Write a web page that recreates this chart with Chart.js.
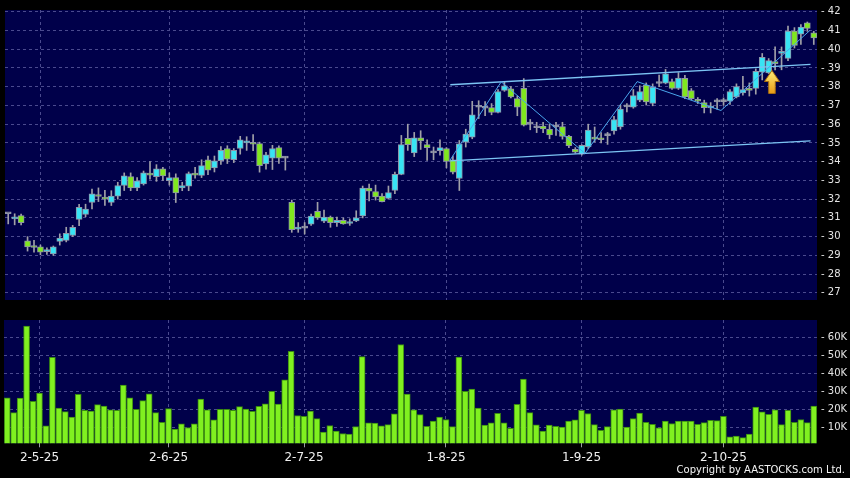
<!DOCTYPE html>
<html>
<head>
<meta charset="utf-8">
<script src="https://cdn.jsdelivr.net/npm/chart.js@4.4.1/dist/chart.umd.min.js"></script>
<style>
body{margin:0;background:#000;width:850px;height:478px;overflow:hidden;position:relative}
canvas{position:absolute;left:0}
#graficoPrecio{top:0}
#graficoVolumen{top:310px}
#copy{position:absolute;right:5px;top:464px;font:10px "DejaVu Sans",sans-serif;color:#f4f4f4}
</style>
</head>
<body>
<canvas id="graficoPrecio" width="850" height="310"></canvas>
<canvas id="graficoVolumen" width="850" height="168"></canvas>
<div id="copy">Copyright by AASTOCKS.com Ltd.</div>
<script>

/* =========================
DATOS
========================= */

const tickIdx = [5, 25, 46, 68, 89, 111]
const tickText = ["2-5-25", "2-6-25", "2-7-25", "1-8-25", "1-9-25", "2-10-25"]

const priceTicks = [27, 28, 29, 30, 31, 32, 33, 34, 35, 36, 37, 38, 39, 40, 41, 42]
const volTicks = [10000, 20000, 30000, 40000, 50000, 60000]

const abre = [
31.22,30.95,31.12,29.78,29.5,29.45,29.2,29.08,29.75,29.8,30.06,30.92,31.18,31.82,32.2,32.05,31.83,32.16,32.73,33.2,
32.6,32.81,33.37,33.2,33.62,32.98,33.15,32.6,32.69,33.36,33.27,34.1,33.67,34.05,34.7,34.1,34.7,35.0,35.0,34.96,
33.88,34.19,34.75,34.19,31.83,30.4,30.45,30.66,31.35,30.83,31.04,30.74,30.87,30.7,30.84,31.1,32.59,32.41,32.16,32.04,
32.46,33.32,35.25,34.47,35.27,34.91,34.47,34.58,34.7,34.1,33.1,35.04,35.3,36.9,36.85,36.88,36.62,37.8,37.88,37.36,
37.91,36.0,35.81,35.9,35.73,35.85,35.87,35.35,34.66,34.4,34.78,35.3,35.27,35.39,35.64,35.85,36.92,36.9,37.28,38.08,
37.1,38.17,38.19,38.27,37.91,38.44,37.79,37.31,37.15,36.86,37.19,37.2,37.23,37.45,37.67,37.9,37.91,38.77,38.74,39.33,
39.78,39.51,40.97,40.8,41.4,40.87
]

const alto = [
31.22,31.22,31.2,30.0,29.8,29.55,29.4,29.5,30.15,30.5,30.6,31.73,31.73,32.54,32.6,32.47,32.45,32.9,33.4,33.4,
33.15,33.5,34.0,33.84,33.7,33.4,33.35,32.9,33.45,33.7,34.1,34.3,34.3,34.8,34.85,34.7,35.35,35.33,35.45,35.04,
34.5,34.87,34.85,34.27,31.95,30.75,30.75,31.2,31.83,31.42,31.1,31.05,31.0,30.95,31.38,32.7,32.8,32.75,32.3,32.7,
33.44,35.4,36.0,35.56,35.65,35.17,34.78,35.17,34.75,34.3,35.13,35.73,37.22,37.25,37.2,37.1,37.85,38.25,38.0,37.5,
38.43,36.25,36.1,36.1,36.0,36.1,36.1,35.4,34.75,34.9,36.0,35.85,35.55,35.56,36.42,37.02,37.1,37.85,38.05,38.2,
38.15,38.62,38.92,38.4,38.75,38.6,37.9,37.42,37.28,37.15,37.36,37.4,37.85,38.15,38.55,38.2,38.95,39.77,39.5,40.12,
40.12,41.23,41.15,41.31,41.45,40.95
]

const bajo = [
30.68,30.63,30.62,29.23,29.17,29.03,29.05,29.0,29.55,29.72,30.0,30.58,31.06,31.48,31.87,31.66,31.66,32.0,32.46,32.45,
32.45,32.75,33.07,32.95,33.0,32.75,31.82,32.45,32.45,33.12,33.15,33.3,33.45,33.85,33.9,33.95,34.4,34.6,34.58,33.44,
33.6,33.58,33.9,33.55,30.23,30.23,30.14,30.6,30.92,30.75,30.5,30.55,30.66,30.6,30.8,31.0,31.9,31.95,31.85,32.0,
32.29,33.3,34.6,34.27,34.65,34.06,34.1,34.35,33.67,33.35,32.46,34.78,35.22,36.3,36.45,36.5,36.6,37.75,37.4,36.45,
35.9,35.7,35.55,35.55,35.22,35.4,35.2,34.75,34.45,34.35,34.7,35.05,35.0,34.92,35.47,35.73,36.65,36.85,37.2,37.02,
36.98,38.0,38.15,37.85,37.85,37.36,37.3,37.1,36.6,36.6,36.8,37.0,37.05,37.4,37.55,37.5,37.6,38.36,38.7,38.9,
38.9,39.39,40.06,40.25,40.95,40.25
]

const cierre = [
31.22,31.02,30.75,29.45,29.42,29.17,29.28,29.46,29.92,30.18,30.49,31.56,31.47,32.29,32.14,32.0,32.17,32.73,33.24,32.6,
32.98,33.41,33.28,33.62,33.24,33.15,32.33,32.72,33.36,33.28,33.79,33.55,34.05,34.61,34.13,34.61,35.17,35.08,34.93,33.79,
34.36,34.7,34.19,34.19,30.37,30.5,30.45,31.1,31.0,31.04,30.75,30.87,30.68,30.8,31.0,32.59,32.42,32.12,31.87,32.35,
33.32,34.91,34.91,35.27,35.1,34.75,34.47,34.75,34.01,33.44,34.95,35.47,36.5,36.9,36.85,36.62,37.74,38.05,37.45,36.9,
35.95,36.0,35.81,35.75,35.42,35.85,35.34,34.85,34.5,34.87,35.68,35.2,35.17,35.39,36.25,36.81,36.92,37.52,37.74,37.19,
37.96,38.17,38.69,37.91,38.46,37.45,37.36,37.22,36.88,36.93,37.19,37.2,37.74,38.0,37.85,37.8,38.82,39.56,39.39,39.23,
39.86,40.97,40.2,41.18,41.11,40.6
]

const volumen = [
26.6,18.4,26.4,66.1,24.6,29.1,11.1,48.8,20.9,18.9,16.0,28.4,19.7,19.3,22.8,22.0,20.0,19.7,33.5,26.6,
20.2,25.0,28.8,18.4,13.1,20.6,9.3,12.2,10.2,12.2,25.9,19.9,14.4,20.2,20.2,19.7,21.7,20.4,19.1,21.9,
23.3,30.1,23.1,36.4,52.1,16.8,16.4,19.3,15.1,7.7,11.3,8.2,6.9,6.6,10.7,49.2,12.8,12.6,11.1,11.8,
17.7,55.9,28.6,19.9,17.3,10.9,13.8,16.0,14.6,10.7,49.0,30.1,31.3,20.9,11.5,12.8,18.0,12.8,9.7,23.0,
36.8,18.4,11.7,8.2,11.5,10.9,10.4,13.8,14.4,19.7,17.9,11.8,8.7,10.7,19.9,20.4,10.4,15.1,18.2,13.1,
12.0,10.0,13.8,12.4,13.7,13.7,13.7,12.0,12.9,14.2,14.0,16.4,5.1,5.5,4.6,6.6,21.5,18.8,17.5,20.0,
11.8,19.7,13.1,14.6,12.9,22.0
]

// lineas de tendencia (indice de barra, precio)
const canalSupX = [68.6, 124.5]
const canalSupY = [38.10, 39.19]
const canalInfX = [68.6, 124.5]
const canalInfY = [34.04, 35.11]
const zigzagX = [68.5, 76.5, 89.5, 97.6, 110.6, 124.4]
const zigzagY = [34.05, 38.26, 34.44, 38.27, 36.73, 41.0]
const flechaX = [118.5]
const flechaY = [38.25]


/* =========================
ESTILOS
========================= */

const NAVY = "#00004a"
const GRID = "#4a4a8e"
const CYAN = "#38e4f4"
const VERDE = "#80e81e"
const GRIS = "#a0a0a8"

const fondoPanel = {
id: "fondoPanel",
beforeDraw(chart){
let a = chart.chartArea
let ctx = chart.ctx
ctx.save()
ctx.fillStyle = NAVY
ctx.fillRect(a.left, a.top, a.right - a.left, a.bottom - a.top)
ctx.restore()
}
}

function makeArrow(){
let c = document.createElement("canvas")
c.width = 16
c.height = 24
let g = c.getContext("2d")
let grad = g.createLinearGradient(0, 0, 0, 24)
grad.addColorStop(0, "#fff07a")
grad.addColorStop(1, "#e89a14")
g.beginPath()
g.moveTo(8, 0.5)
g.lineTo(15.5, 11.5)
g.lineTo(11.3, 11.5)
g.lineTo(11.3, 23.5)
g.lineTo(4.7, 23.5)
g.lineTo(4.7, 11.5)
g.lineTo(0.5, 11.5)
g.closePath()
g.fillStyle = grad
g.fill()
g.strokeStyle = "#a86c10"
g.lineWidth = 1
g.stroke()
return c
}

function colorVela(i){
if(cierre[i] > abre[i]) return CYAN
if(cierre[i] < abre[i]) return VERDE
return GRIS
}

function puntos(xs, ys){
return xs.map((x, i) => ({x: x, y: ys[i]}))
}

Chart.defaults.font.family = "'DejaVu Sans', sans-serif"
Chart.defaults.animation = false


/* =========================
GRAFICO PRECIO
========================= */

let cuerpos = abre.map((o, i) => ({x: i, y: [o, cierre[i]]}))
let mechas = abre.map((o, i) => ({x: i, y: [bajo[i], alto[i]]}))
let colores = abre.map((o, i) => colorVela(i))

new Chart(document.getElementById("graficoPrecio"), {
type: "bar",
data: {
datasets: [
{
type: "scatter",
data: puntos(flechaX, flechaY),
pointStyle: makeArrow(),
order: 0
},
{
type: "line",
data: puntos(zigzagX, zigzagY),
borderColor: "#4aa6ec",
borderWidth: 1,
pointRadius: 0,
order: 1
},
{
type: "line",
data: puntos(canalSupX, canalSupY),
borderColor: "#7cc4f4",
borderWidth: 1.4,
pointRadius: 0,
order: 1
},
{
type: "line",
data: puntos(canalInfX, canalInfY),
borderColor: "#7cc4f4",
borderWidth: 1.4,
pointRadius: 0,
order: 1
},
{
data: cuerpos,
backgroundColor: colores,
borderColor: "#8e94a8",
borderWidth: 1,
borderSkipped: false,
barThickness: 6,
minBarLength: 2,
grouped: false,
order: 2
},
{
data: mechas,
backgroundColor: GRIS,
borderWidth: 0,
barThickness: 1,
grouped: false,
order: 3
}
]
},
options: {
responsive: false,
devicePixelRatio: 1,
layout: {padding: {left: 4, top: 5, bottom: 5, right: 0}},
plugins: {legend: {display: false}, tooltip: {enabled: false}},
scales: {
x: {
type: "linear",
min: -0.5,
max: 125.5,
offset: false,
afterBuildTicks: s => { s.ticks = tickIdx.map(v => ({value: v})) },
afterFit: s => { s.height = 0 },
ticks: {display: false},
grid: {color: GRID, drawTicks: false, offset: false},
border: {display: false, dash: [3, 3]}
},
y: {
position: "right",
min: 26.62,
max: 42.09,
afterBuildTicks: s => { s.ticks = priceTicks.map(v => ({value: v})) },
afterFit: s => { s.width = 33 },
ticks: {
color: "#e4e4e4",
font: {size: 10},
padding: 4,
callback: v => "- " + v
},
grid: {color: GRID, drawTicks: false},
border: {display: false, dash: [3, 3]}
}
}
},
plugins: [fondoPanel]
})


/* =========================
GRAFICO VOLUMEN
========================= */

let barrasVol = volumen.map((v, i) => ({x: i, y: v * 1000}))

new Chart(document.getElementById("graficoVolumen"), {
type: "bar",
data: {
datasets: [{
data: barrasVol,
backgroundColor: "#80f020",
borderColor: "#3a8a12",
borderWidth: 1,
borderSkipped: false,
barThickness: 6
}]
},
options: {
responsive: false,
devicePixelRatio: 1,
layout: {padding: {left: 4, top: 9, bottom: 0, right: 0}},
plugins: {legend: {display: false}, tooltip: {enabled: false}},
scales: {
x: {
type: "linear",
min: -0.5,
max: 125.5,
offset: false,
afterBuildTicks: s => { s.ticks = tickIdx.map(v => ({value: v})) },
afterFit: s => { s.height = 34.7 },
ticks: {
color: "#f0f0f0",
font: {size: 12},
padding: 3,
autoSkip: false,
maxRotation: 0,
callback: (v, i) => tickText[i]
},
grid: {color: GRID, offset: false, drawTicks: true, tickLength: 4, tickColor: "#9a9aa8", tickBorderDash: []},
border: {display: false, dash: [3, 3]}
},
y: {
position: "right",
min: 1500,
max: 69400,
afterBuildTicks: s => { s.ticks = volTicks.map(v => ({value: v})) },
afterFit: s => { s.width = 33 },
ticks: {
color: "#e4e4e4",
font: {size: 10},
padding: 4,
callback: v => "- " + (v / 1000) + "K"
},
grid: {color: GRID, drawTicks: false},
border: {display: false, dash: [3, 3]}
}
}
},
plugins: [fondoPanel]
})

</script>
</body>
</html>
